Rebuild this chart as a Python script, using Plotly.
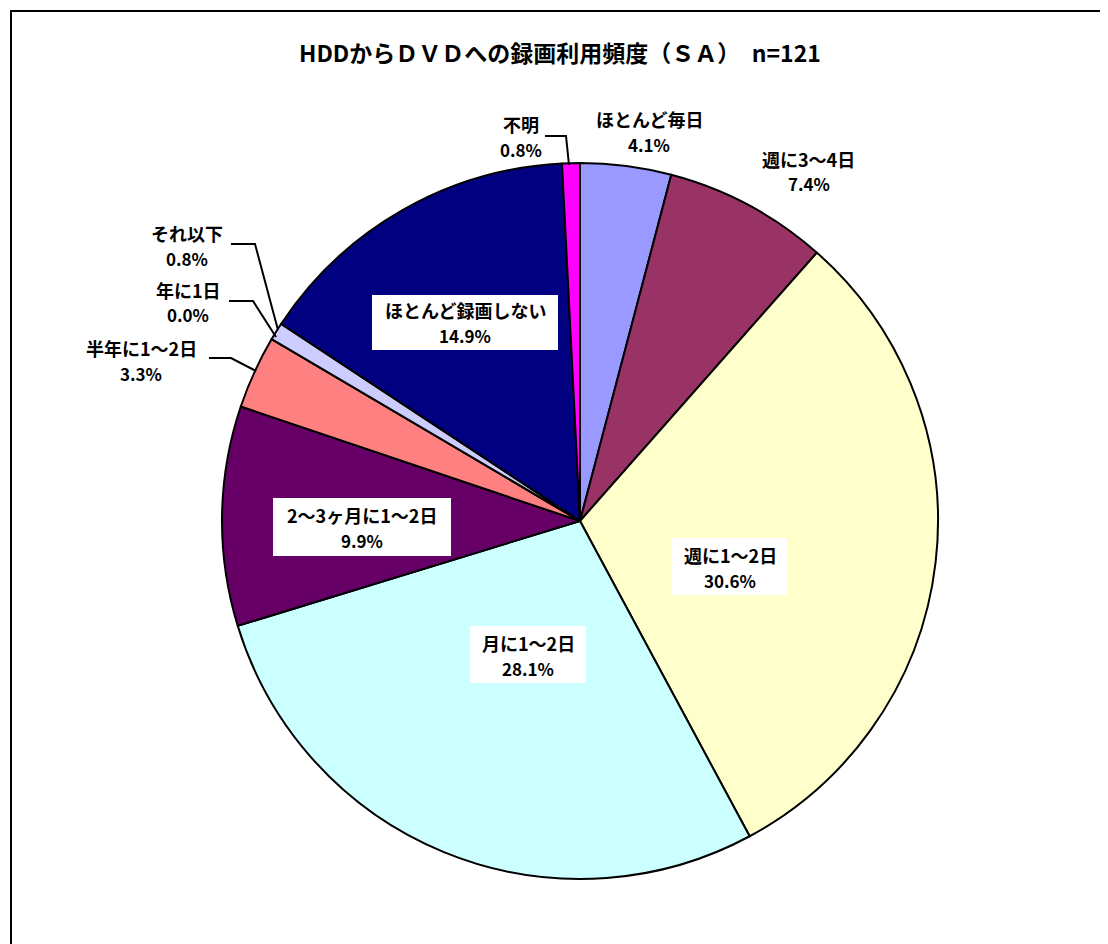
import plotly.graph_objects as go

W, H = 1108, 944
OFF = 8  # page body margin in the browser

labels = ["ほとんど毎日", "週に3～4日", "週に1～2日", "月に1～2日", "2～3ヶ月に1～2日",
          "半年に1～2日", "年に1日", "それ以下", "ほとんど録画しない", "不明"]
values = [4.1, 7.4, 30.6, 28.1, 9.9, 3.3, 0.0, 0.8, 14.9, 0.8]
colors = ["#9999FF", "#993366", "#FFFFCC", "#CCFFFF", "#660066",
          "#FF8080", "#FFFFFF", "#CCCCFF", "#000080", "#FF00FF"]

# label placement (screen pixel centre), white box (x0, x1, y0, y1) or None, leader line points
label_pos = {
    "ほとんど毎日": (649, 131, None, None),
    "週に3～4日": (809, 171, None, None),
    "週に1～2日": (730, 567, (672, 787, 538, 595), None),
    "月に1～2日": (528, 655, (470, 586, 626, 683), None),
    "2～3ヶ月に1～2日": (362, 527, (273, 451, 498, 556), None),
    "半年に1～2日": (141, 360, None, [(209, 358), (231, 358), (256, 371)]),
    "年に1日": (188, 302, None, [(229, 301), (253, 301), (276, 337)]),
    "それ以下": (187, 245, None, [(231, 244), (255, 244), (278, 330)]),
    "ほとんど録画しない": (465, 322, (372, 558, 295, 350), None),
    "不明": (521, 136, None, [(545, 136), (566, 136), (569, 165)]),
}


def px(x):
    return (x - OFF) / W


def py(y):
    return 1 - (y - OFF) / H


cx, cy, r = 580, 521, 358

fig = go.Figure(go.Pie(
    labels=labels, values=values, sort=False, direction="clockwise", rotation=0,
    marker=dict(colors=colors, line=dict(color="black", width=2)),
    textinfo="none", hoverinfo="label+percent", showlegend=False,
    domain=dict(x=[px(cx - r), px(cx + r)], y=[py(cy + r), py(cy - r)]),
))

FAM = "Noto Sans CJK JP, sans-serif"
annotations = []
shapes = []
for lab, v in zip(labels, values):
    x, y, box, leader = label_pos[lab]
    if box:
        x0, x1, y0, y1 = box
        shapes.append(dict(type="rect", xref="paper", yref="paper", layer="above",
                           x0=px(x0), x1=px(x1), y0=py(y1), y1=py(y0),
                           fillcolor="white", line=dict(width=0)))
    annotations.append(dict(
        x=px(x), y=py(y - 12), xref="paper", yref="paper", xanchor="center", yanchor="middle",
        text=f"<b>{lab}</b>", showarrow=False,
        font=dict(family=FAM, size=18, color="black"),
    ))
    annotations.append(dict(
        x=px(x), y=py(y + 13), xref="paper", yref="paper", xanchor="center", yanchor="middle",
        text=f"<b>{v:.1f}%</b>", showarrow=False,
        font=dict(family=FAM, size=17, color="black"),
    ))
    if leader:
        path = "M " + " L ".join(f"{px(a)},{py(b)}" for a, b in leader)
        shapes.append(dict(type="path", xref="paper", yref="paper", path=path,
                           line=dict(color="black", width=2)))

annotations.append(dict(
    x=px(560), y=py(52), xref="paper", yref="paper", xanchor="center", yanchor="middle",
    showarrow=False,
    text="<b>HDDからＤＶＤへの録画利用頻度（ＳＡ）　n=121</b>",
    font=dict(family=FAM, size=23, color="black"),
))

shapes.append(dict(type="rect", xref="paper", yref="paper",
                   x0=px(11), x1=1.05, y0=-0.05, y1=py(11),
                   line=dict(color="black", width=2)))

fig.update_layout(
    width=W, height=H, margin=dict(l=0, r=0, t=0, b=0),
    paper_bgcolor="white", plot_bgcolor="white",
    annotations=annotations, shapes=shapes,
)

fig.write_html("out.html")
